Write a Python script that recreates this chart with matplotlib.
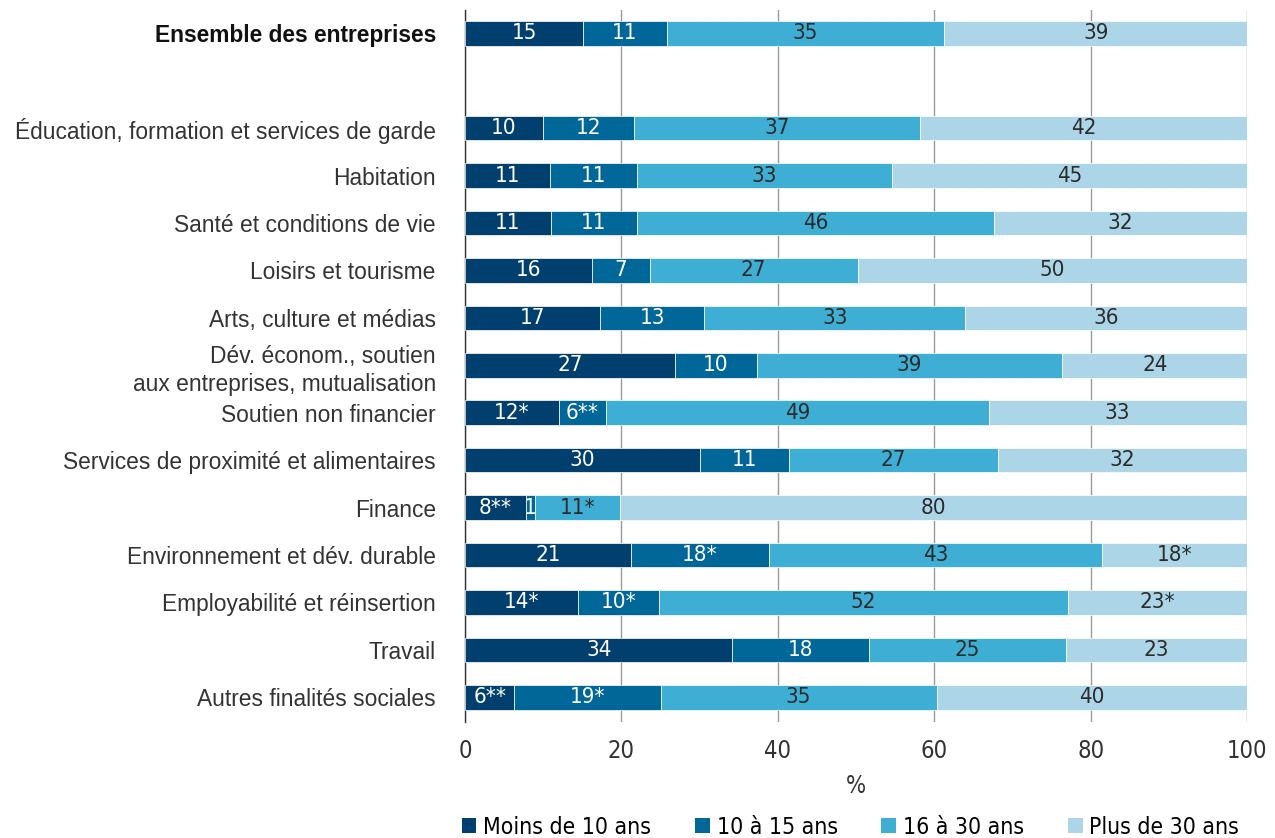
import matplotlib.pyplot as plt
from matplotlib.patches import Patch
from matplotlib import font_manager

# Catégories (de haut en bas)
categories = [
    "Ensemble des entreprises",
    "Éducation, formation et services de garde",
    "Habitation",
    "Santé et conditions de vie",
    "Loisirs et tourisme",
    "Arts, culture et médias",
    "Dév. économ., soutien\naux entreprises, mutualisation",
    "Soutien non financier",
    "Services de proximité et alimentaires",
    "Finance",
    "Environnement et dév. durable",
    "Employabilité et réinsertion",
    "Travail",
    "Autres finalités sociales",
]

# Valeurs (%)
moins_10 = [15.1, 10.0, 10.9, 11.0, 16.3, 17.3, 26.9, 12.0, 30.1, 7.8, 21.2, 14.5, 34.2, 6.3]
de_10_15 = [10.7, 11.6, 11.1, 11.0, 7.3, 13.3, 10.4, 6.05, 11.3, 1.1, 17.7, 10.3, 17.4, 18.7]
de_16_30 = [35.5, 36.6, 32.6, 45.6, 26.6, 33.4, 39.1, 48.9, 26.8, 10.9, 42.6, 52.3, 25.2, 35.3]
plus_30 = [38.7, 41.8, 45.4, 32.4, 49.8, 36.0, 23.6, 33.0, 31.8, 80.2, 18.5, 22.9, 23.2, 39.7]

# Étiquettes affichées
lab_moins_10 = ["15", "10", "11", "11", "16", "17", "27", "12*", "30", "8**", "21", "14*", "34", "6**"]
lab_10_15 = ["11", "12", "11", "11", "7", "13", "10", "6**", "11", "1", "18*", "10*", "18", "19*"]
lab_16_30 = ["35", "37", "33", "46", "27", "33", "39", "49", "27", "11*", "43", "52", "25", "35"]
lab_plus_30 = ["39", "42", "45", "32", "50", "36", "24", "33", "32", "80", "18*", "23*", "23", "40"]

series = ["Moins de 10 ans", "10 à 15 ans", "16 à 30 ans", "Plus de 30 ans"]
couleurs = ["#003f6e", "#006798", "#3eaed4", "#acd6e8"]
couleurs_txt = ["white", "white", "#2b2b2b", "#2b2b2b"]

plt.rcParams["font.family"] = ["Liberation Sans", "DejaVu Sans"]

fig = plt.figure(figsize=(12.75, 8.38), dpi=100)
ax = fig.add_axes([465 / 1275, 1 - 722 / 838, 782 / 1275, 712 / 838])

ypos = [0] + list(range(2, len(categories) + 1))
data = [moins_10, de_10_15, de_16_30, plus_30]
labels = [lab_moins_10, lab_10_15, lab_16_30, lab_plus_30]

gauche = [0.0] * len(categories)
for vals, labs, col, tcol in zip(data, labels, couleurs, couleurs_txt):
    ax.barh(ypos, vals, left=gauche, height=0.52, color=col,
            edgecolor="white", linewidth=0.5, zorder=3)
    for y, v, g, t in zip(ypos, vals, gauche, labs):
        ax.text(g + v / 2, y, t, ha="center", va="center", color=tcol,
                fontsize=16, family="DejaVu Sans", stretch="condensed", zorder=4)
    gauche = [g + v for g, v in zip(gauche, vals)]

ax.set_xlim(0, 100)
ax.set_ylim(14.52, -0.49)
ax.set_xticks([0, 20, 40, 60, 80, 100])
ax.set_yticks(ypos)
ax.set_yticklabels(categories, fontsize=16.4, color="#333333", linespacing=1.3)
ax.get_yticklabels()[0].set_fontweight("bold")
ax.get_yticklabels()[0].set_color("#111111")
for lab in ax.get_xticklabels():
    lab.set_family("DejaVu Sans")
    lab.set_stretch("condensed")
    lab.set_fontsize(17)
    lab.set_color("#333333")

ax.tick_params(axis="y", length=0, pad=21)
ax.tick_params(axis="x", length=0, pad=12)
ax.grid(axis="x", color="#9a9a9a", linewidth=1, zorder=0)
for s in ["top", "right", "bottom"]:
    ax.spines[s].set_visible(False)
ax.spines["left"].set_color("#333333")
ax.spines["left"].set_linewidth(1)

ax.set_xlabel("%", fontsize=17, color="#333333", family="DejaVu Sans",
              stretch="condensed", labelpad=8)

handles = [Patch(facecolor=c, edgecolor="none") for c in couleurs]
fig.legend(handles, series, loc="center", bbox_to_anchor=(0.667, 0.013),
           ncol=4, frameon=False, handlelength=0.65, handleheight=0.65,
           handletextpad=0.3, columnspacing=1.9,
           prop=font_manager.FontProperties(family="DejaVu Sans", stretch="condensed", size=16.5))

fig.savefig("out.png", dpi=100)
